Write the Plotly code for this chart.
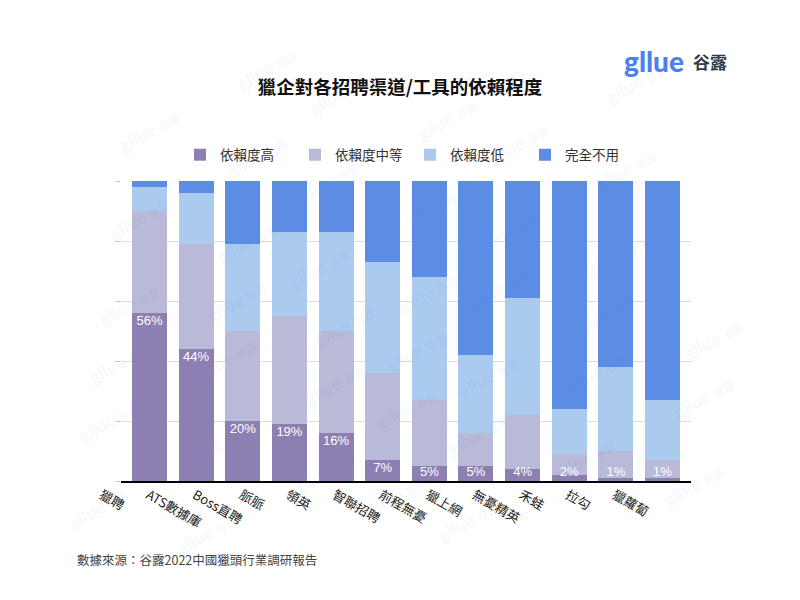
import plotly.graph_objects as go

categories = ["獵聘", "ATS數據庫", "Boss直聘", "脈脈", "領英", "智聯招聘", "前程無憂",
              "獵上網", "無憂精英", "禾蛙", "拉勾", "獵蘿蔔"]
series_names = ["依賴度高", "依賴度中等", "依賴度低", "完全不用"]
high = [56, 44, 20, 19, 16, 7, 5, 5, 4, 2, 1, 1]
medium = [34, 35, 30, 36, 34, 29, 22, 11, 18, 7, 9, 6]
low = [8, 17, 29, 28, 33, 37, 41, 26, 39, 15, 28, 20]
unused = [2, 4, 21, 17, 17, 27, 32, 58, 39, 76, 62, 73]

title_text = "獵企對各招聘渠道/工具的依賴程度"
source_text = "數據來源：谷露2022中國獵頭行業調研報告"

colors = ["#8E7FB2", "#B9B9D8", "#AACAEE", "#5B8DE5"]
cjk = "Noto Sans CJK TC, Noto Sans CJK SC, sans-serif"

fig = go.Figure()
for name, vals, col in zip(series_names, [high, medium, low, unused], colors):
    fig.add_trace(go.Bar(x=categories, y=vals, name=name, marker=dict(color=col, line=dict(width=0))))

# percentage labels for "high" series
label_y = [max(v - 3, 2.7) for v in high]
fig.add_trace(go.Scatter(
    x=categories, y=label_y, mode="text", text=[f"{v}%" for v in high],
    textposition="middle center", showlegend=False, hoverinfo="skip",
    textfont=dict(color="white", size=13, family="Liberation Sans, Arial, sans-serif")))

# the page body adds an 8px offset; size the figure so it fits the 800x600 window
OFF = 8
W, H = 800 - 2 * OFF, 600 - 2 * OFF
L = 121 - OFF
T = 181 - OFF
R = W - (691 - OFF)
B = H - (481 - OFF)
PW, PH = W - L - R, H - T - B

def px2paper(x, y):
    # x, y are window pixel coordinates
    return (x - OFF - L) / PW, (H - B - (y - OFF)) / PH

annotations = []
# watermarks (kept fully inside the canvas)
for i in range(-6, 10):
    for j in range(-3, 10):
        x = 230 + 108 * i - 118 * j
        y = 40 + 25 * i + 62 * j
        if 48 <= x <= 750 and 32 <= y <= 570:
            px, py = px2paper(x, y)
            annotations.append(dict(
                x=px, y=py, xref="paper", yref="paper", showarrow=False, textangle=-30,
                text="gllue <span style='font-size:11px'>谷露</span>",
                font=dict(size=18, color="rgba(90,130,225,0.06)", family="Lato, " + cjk, weight=900)))

# logo
px, py = px2paper(654, 61)
annotations.append(dict(x=px, y=py, xref="paper", yref="paper", showarrow=False,
                        text="gllue", font=dict(size=28, color="#4C80EF", family="Lato", weight=900),
                        xanchor="center", yanchor="middle"))
px, py = px2paper(710, 62)
annotations.append(dict(x=px, y=py, xref="paper", yref="paper", showarrow=False,
                        text="谷露", font=dict(size=17, color="#2E3A4A", family=cjk, weight=700),
                        xanchor="center", yanchor="middle"))
# source
px, py = px2paper(75, 559)
annotations.append(dict(x=px, y=py, xref="paper", yref="paper", showarrow=False,
                        text=source_text, font=dict(size=12.5, color="#444", family=cjk),
                        xanchor="left", yanchor="middle"))

lx, ly = px2paper(410, 155)
fig.update_layout(
    width=W, height=H,
    margin=dict(l=L, r=R, t=T, b=B, autoexpand=False),
    paper_bgcolor="white", plot_bgcolor="white",
    barmode="stack", bargap=0.25,
    title=dict(text=title_text, x=(400 - OFF) / W, xanchor="center", y=1 - (88 - OFF) / H,
               yanchor="middle", font=dict(size=18.5, color="#111", family=cjk, weight=700)),
    legend=dict(orientation="h", x=lx, y=ly, xanchor="center", yanchor="middle",
                traceorder="normal",
                font=dict(size=13.5, color="#333", family=cjk), entrywidth=70,
                bgcolor="rgba(0,0,0,0)"),
    xaxis=dict(tickangle=30, tickfont=dict(size=13, color="#222", family=cjk),
               showline=True, linecolor="black", linewidth=1.5, ticks="",
               ticklabelshift=-48, showgrid=False, automargin=False),
    yaxis=dict(range=[0, 100], dtick=20, showticklabels=False, gridcolor="#DDDDDD",
               gridwidth=1, ticks="outside", ticklen=5, tickcolor="#CCCCCC",
               zeroline=False, showline=False, automargin=False),
    annotations=annotations,
    font=dict(family=cjk),
)

fig.write_html("out.html")
